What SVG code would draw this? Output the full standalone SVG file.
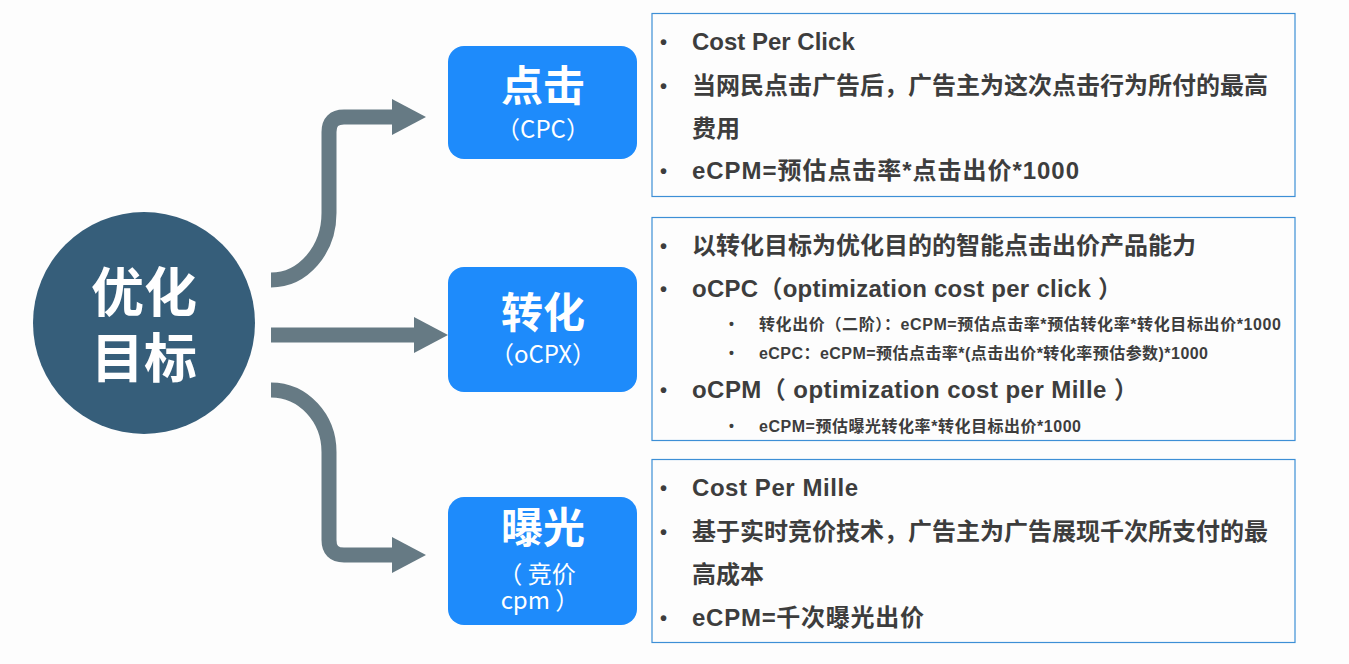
<svg xmlns="http://www.w3.org/2000/svg" width="1349" height="664" viewBox="0 0 1349 664">
  <defs>
    <marker id="head" markerUnits="userSpaceOnUse" viewBox="0 0 34 36" markerWidth="34" markerHeight="36" refX="0" refY="18" orient="auto">
      <path d="M0,0 L34,18 L0,36 Z" fill="#667a84"/>
    </marker>
    <style>
      .conn { fill: none; stroke: #667a84; stroke-width: 15; marker-end: url(#head); }
      .blue { fill: #1e8bfb; }
      .panel { fill: none; stroke: #3d8fd6; stroke-width: 1.2; }
      .big { font-family: "Noto Sans CJK SC", "Liberation Sans", sans-serif; font-weight: 700; fill: #ffffff; text-anchor: middle; }
      .sub { font-family: "Noto Sans CJK SC", "Liberation Sans", sans-serif; font-weight: 400; fill: #ffffff; font-size: 24px; text-anchor: middle; }
      .t { font-family: "Liberation Sans", "Noto Sans CJK SC", sans-serif; font-weight: 700; fill: #3d3d3d; font-size: 24px; }
      .s { font-family: "Liberation Sans", "Noto Sans CJK SC", sans-serif; font-weight: 700; fill: #3d3d3d; font-size: 16px; }
      .b { font-family: "Liberation Sans", sans-serif; font-weight: 700; fill: #3d3d3d; font-size: 20px; }
      .bs { font-family: "Liberation Sans", sans-serif; font-weight: 700; fill: #3d3d3d; font-size: 14px; }
    </style>
  </defs>
  <rect width="1349" height="664" fill="#fdfdfd"/>

  <g id="connectors">
    <path class="conn" d="M271,280 A58,67 0 0 0 329,213 V132 Q329,117 344,117 H392"/>
    <path class="conn" d="M271,335 H414"/>
    <path class="conn" d="M271,390 A58,62 0 0 1 329,452 V540 Q329,555 344,555 H392"/>
  </g>

  <g id="root">
    <circle cx="144" cy="323" r="111" fill="#365e7a"/>
    <text class="big" x="144" y="312" font-size="53">优化</text>
    <text class="big" x="144" y="378" font-size="53">目标</text>
  </g>

  <g id="cpc">
    <rect class="blue" x="448" y="46" width="189" height="113" rx="16"/>
    <text class="big" x="543" y="101" font-size="42">点击</text>
    <text class="sub" x="543" y="138">（CPC）</text>
  </g>

  <g id="ocpx">
    <rect class="blue" x="448" y="267" width="189" height="125" rx="16"/>
    <text class="big" x="543" y="328" font-size="42">转化</text>
    <text class="sub" x="543" y="363">（oCPX）</text>
  </g>

  <g id="cpm">
    <rect class="blue" x="448" y="497" width="189" height="128" rx="16"/>
    <text class="big" x="543" y="543" font-size="42">曝光</text>
    <text class="sub" x="537" y="583">（  竞价</text>
    <text class="sub" x="540" y="609">cpm  ）</text>
  </g>

  <g id="panel-cpc">
    <rect class="panel" x="652" y="13.5" width="643" height="183"/>
    <text class="b" x="660" y="49">•</text>
    <text class="t" x="692" y="50">Cost Per Click</text>
    <text class="b" x="660" y="93">•</text>
    <text class="t" x="692" y="94">当网民点击广告后，广告主为这次点击行为所付的最高</text>
    <text class="t" x="692" y="137">费用</text>
    <text class="b" x="660" y="178">•</text>
    <text class="t" x="692" y="179" textLength="387" lengthAdjust="spacing">eCPM=预估点击率*点击出价*1000</text>
  </g>

  <g id="panel-ocpx">
    <rect class="panel" x="652" y="217.5" width="643" height="223"/>
    <text class="b" x="660" y="253">•</text>
    <text class="t" x="692" y="254">以转化目标为优化目的的智能点击出价产品能力</text>
    <text class="b" x="660" y="296">•</text>
    <text class="t" x="692" y="297" textLength="430" lengthAdjust="spacing">oCPC（optimization cost per click ）</text>
    <text class="bs" x="729" y="329">•</text>
    <text class="s" x="759" y="330" textLength="522" lengthAdjust="spacing">转化出价（二阶）：eCPM=预估点击率*预估转化率*转化目标出价*1000</text>
    <text class="bs" x="729" y="358">•</text>
    <text class="s" x="759" y="359" textLength="449" lengthAdjust="spacing">eCPC：eCPM=预估点击率*(点击出价*转化率预估参数)*1000</text>
    <text class="b" x="660" y="397">•</text>
    <text class="t" x="692" y="398" textLength="446" lengthAdjust="spacing">oCPM（ optimization cost per Mille ）</text>
    <text class="bs" x="729" y="431">•</text>
    <text class="s" x="759" y="432" textLength="322" lengthAdjust="spacing">eCPM=预估曝光转化率*转化目标出价*1000</text>
  </g>

  <g id="panel-cpm">
    <rect class="panel" x="652" y="459.5" width="643" height="183"/>
    <text class="b" x="660" y="495">•</text>
    <text class="t" x="692" y="496" textLength="166" lengthAdjust="spacing">Cost Per Mille</text>
    <text class="b" x="660" y="539">•</text>
    <text class="t" x="692" y="540">基于实时竞价技术，广告主为广告展现千次所支付的最</text>
    <text class="t" x="692" y="583">高成本</text>
    <text class="b" x="660" y="625">•</text>
    <text class="t" x="692" y="626" textLength="232" lengthAdjust="spacing">eCPM=千次曝光出价</text>
  </g>
</svg>
